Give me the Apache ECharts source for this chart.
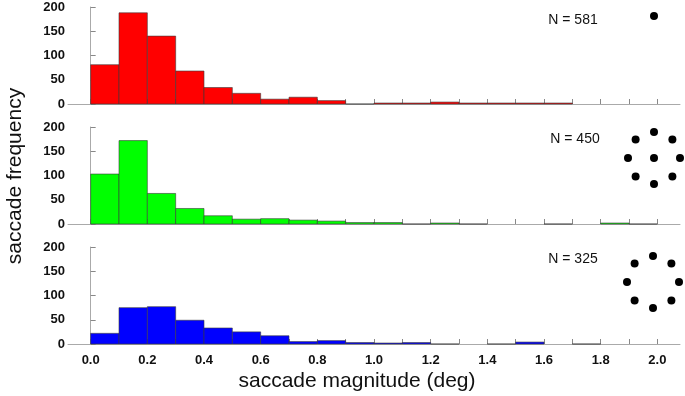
<!DOCTYPE html>
<html>
<head>
<meta charset="utf-8">
<script src="https://cdn.jsdelivr.net/npm/echarts@6/dist/echarts.min.js"></script>
<style>html,body{margin:0;padding:0;background:#fff;}#c{width:685px;height:396px;}</style>
</head>
<body>
<div id="c"></div>
<script>
// Bin edges (deg)
const binEdges = [0.0, 0.1, 0.2, 0.3, 0.4, 0.5, 0.6, 0.7, 0.8, 0.9, 1.0, 1.1, 1.2, 1.3, 1.4, 1.5, 1.6, 1.7, 1.8, 1.9, 2.0];
// Counts per bin (null = no bar drawn)
const redCounts   = [81, 188, 140, 68, 34, 22, 10, 14, 7, 0, 2, 2, 4, 2, 2, 2, 2];
const greenCounts = [103, 172, 63, 32, 17, 10, 11, 8, 6, 3, 3, 0, 2, 0, null, null, 0, null, 2, 0];
const blueCounts  = [22, 75, 77, 49, 33, 25, 17, 5, 7, 3, 2, 3, 0, null, 0, 4, null, 0];
const panelLabels = ['N = 581', 'N = 450', 'N = 325'];
const xTicks = [0.0, 0.1, 0.2, 0.3, 0.4, 0.5, 0.6, 0.7, 0.8, 0.9, 1.0, 1.1, 1.2, 1.3, 1.4, 1.5, 1.6, 1.7, 1.8, 1.9, 2.0];
const xLabels = [0.0, 0.2, 0.4, 0.6, 0.8, 1.0, 1.2, 1.4, 1.6, 1.8, 2.0];
const yTicks = [0, 50, 100, 150, 200];

const colors = ['#ff0000', '#00ff00', '#0000ff'];
const allCounts = [redCounts, greenCounts, blueCounts];
const gridTops = [7, 127, 247];
const gridH = 97;

function toData(counts) {
  const d = [];
  counts.forEach((v, i) => {
    if (v !== null) d.push([binEdges[i], binEdges[i + 1], v]);
  });
  return d;
}

const grids = [], xAxes = [], yAxes = [], series = [];
for (let k = 0; k < 3; k++) {
  grids.push({ left: 68, width: 612, top: gridTops[k], height: gridH });
  xAxes.push({
    type: 'value', gridIndex: k, min: -0.08, max: 2.08,
    axisLine: { show: true, lineStyle: { color: '#aaaaaa', width: 1 } },
    axisTick: { show: true, inside: true, length: 5, customValues: xTicks, lineStyle: { color: '#888888' } },
    axisLabel: {
      show: k === 2, customValues: xLabels, margin: 10,
      formatter: v => Number(v).toFixed(1),
      fontFamily: 'Liberation Sans', fontWeight: 'bold', fontSize: 13, color: '#111'
    },
    splitLine: { show: false }
  });
  yAxes.push({
    type: 'value', gridIndex: k, min: 0, max: 200, interval: 50,
    axisLine: { show: true, lineStyle: { color: '#aaaaaa', width: 1 } },
    axisTick: { show: true, inside: true, length: 5, lineStyle: { color: '#888888' } },
    axisLabel: { margin: 3, fontFamily: 'Liberation Sans', fontWeight: 'bold', fontSize: 13, color: '#111' },
    splitLine: { show: false }
  });
  const col = colors[k];
  series.push({
    type: 'custom', xAxisIndex: k, yAxisIndex: k,
    data: toData(allCounts[k]),
    renderItem: function (params, api) {
      const p0 = api.coord([api.value(0), api.value(2)]);
      const p1 = api.coord([api.value(1), 0]);
      return {
        type: 'rect',
        shape: { x: p0[0], y: p0[1], width: p1[0] - p0[0], height: p1[1] - p0[1] },
        style: { fill: col, stroke: '#3a3a3a', lineWidth: 0.6 }
      };
    },
    silent: true, animation: false
  });
}

// Stimulus dot icons
const graphics = [];
function dot(x, y) {
  graphics.push({ type: 'circle', shape: { cx: x, cy: y, r: 4 }, style: { fill: '#000' } });
}
dot(654, 16);
const ringCenters = [[654, 158], [653, 282]];
const ringR = 26;
for (let a = 0; a < 8; a++) {
  const ang = a * Math.PI / 4;
  dot(ringCenters[0][0] + ringR * Math.sin(ang), ringCenters[0][1] - ringR * Math.cos(ang));
  dot(ringCenters[1][0] + ringR * Math.sin(ang), ringCenters[1][1] - ringR * Math.cos(ang));
}
dot(ringCenters[0][0], ringCenters[0][1]);

const nPos = [[573, 20], [575, 139], [573, 259]];
panelLabels.forEach((t, i) => {
  graphics.push({ type: 'text', x: nPos[i][0], y: nPos[i][1],
    style: { text: t, font: '14px "Liberation Sans"', fill: '#111', align: 'center', verticalAlign: 'middle' } });
});
graphics.push({ type: 'text', x: 357, y: 381,
  style: { text: 'saccade magnitude (deg)', font: '21px "Liberation Sans"', fill: '#111', align: 'center', verticalAlign: 'middle' } });
graphics.push({ type: 'text', x: 15, y: 176, rotation: Math.PI / 2,
  style: { text: 'saccade frequency', font: '21px "Liberation Sans"', fill: '#111', align: 'center', verticalAlign: 'middle' } });

const chart = echarts.init(document.getElementById('c'), null, { renderer: 'canvas' });
chart.setOption({
  animation: false,
  grid: grids, xAxis: xAxes, yAxis: yAxes, series: series,
  graphic: graphics
});
</script>
</body>
</html>
